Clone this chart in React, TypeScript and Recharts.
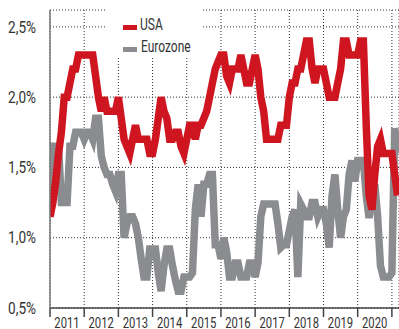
import { LineChart, Line, XAxis, YAxis, CartesianGrid, Legend } from 'recharts';

// Monthly core inflation, % y/y, starting January 2011
const usa = [
	1.15, 1.25, 1.4, 1.6, 1.75, 2.0, 2.0, 2.1, 2.2, 2.2, 2.3, 2.3,
	2.3, 2.3, 2.3, 2.3, 2.15, 2.0, 1.9, 2.0, 1.9, 1.9, 1.9, 1.9,
	2.0, 1.85, 1.7, 1.65, 1.6, 1.7, 1.8, 1.7, 1.7, 1.7, 1.7, 1.6,
	1.6, 1.7, 1.85, 2.0, 1.9, 1.85, 1.7, 1.7, 1.75, 1.75, 1.65, 1.6,
	1.7, 1.8, 1.8, 1.7, 1.8, 1.8, 1.85, 1.9, 2.0, 2.1, 2.2, 2.25,
	2.3, 2.3, 2.15, 2.1, 2.2, 2.2, 2.2, 2.3, 2.2, 2.1, 2.1, 2.2,
	2.3, 2.2, 2.0, 1.9, 1.7, 1.7, 1.7, 1.7, 1.7, 1.8, 1.8, 1.8,
	2.0, 2.1, 2.1, 2.2, 2.2, 2.3, 2.4, 2.4, 2.2, 2.1, 2.2, 2.2,
	2.2, 2.1, 2.0, 2.0, 2.0, 2.1, 2.2, 2.4, 2.4, 2.3, 2.3, 2.3,
	2.3, 2.4, 2.4, 1.8, 1.3, 1.2, 1.45, 1.65, 1.7, 1.6, 1.6, 1.6,
	1.6, 1.45, 1.3,
];

const eurozone = [
	1.3, 1.65, 1.65, 1.65, 1.25, 1.25, 1.25, 1.65, 1.65, 1.75, 1.75, 1.75,
	1.7, 1.75, 1.75, 1.7, 1.85, 1.85, 1.58, 1.5, 1.45, 1.45, 1.38, 1.33,
	1.45, 1.45, 1.0, 1.1, 1.15, 1.15, 1.1, 1.0, 0.85, 0.72, 0.72, 0.92,
	0.92, 0.92, 0.75, 0.62, 0.8, 0.92, 0.92, 0.8, 0.7, 0.62, 0.62, 0.72,
	0.72, 0.72, 0.75, 1.2, 1.38, 1.15, 1.38, 1.38, 1.45, 1.45, 0.95, 0.95,
	0.85, 1.0, 0.9, 0.72, 0.72, 0.82, 0.82, 0.72, 0.72, 0.72, 0.82, 0.82,
	0.72, 0.82, 1.15, 1.24, 1.24, 1.24, 1.24, 1.24, 1.1, 0.93, 0.95, 0.95,
	1.05, 1.15, 1.2, 0.72, 1.24, 1.2, 1.15, 1.15, 1.25, 1.25, 1.15, 1.2,
	1.2, 1.1, 0.93, 1.3, 1.45, 1.2, 1.0, 1.15, 1.2, 1.45, 1.55, 1.4,
	1.55, 1.55, 1.55, 1.3, 1.14, 1.3, 1.38, 1.15, 0.8, 0.72, 0.72, 0.72,
	0.75, 1.78, 1.6,
];

const years = ['2011', '2012', '2013', '2014', '2015', '2016', '2017', '2018', '2019', '2020', '2021'];
const yTicks = [0.5, 1.0, 1.5, 2.0, 2.5];

const RED = '#cf1620';
const GREY = '#8a8c8f';
const FONT = "Roboto, 'DejaVu Sans', sans-serif";

const data = usa.map((v, i) => ({ month: i, usa: v, eurozone: eurozone[i] }));
const xTicks = years.map((_, i) => i * 12);

// narrow type: regular glyphs squeezed horizontally
function NarrowText({ x, y, size, squeeze, anchor = 'start', dy, children }: any) {
	return (
		<text
			transform={`translate(${x},${y}) scale(${squeeze},1)`}
			dy={dy}
			textAnchor={anchor}
			fontSize={size}
			fill="#333"
			fontFamily={FONT}
		>
			{children}
		</text>
	);
}

// year label sits in the middle of its 12-month span
function YearTick({ x, y, payload }: any) {
	const idx = payload.value / 12;
	if (idx >= years.length - 1) return null;
	return (
		<NarrowText x={x + 17} y={y} dy="0.72em" size={15} squeeze={0.75} anchor="middle">
			{years[idx]}
		</NarrowText>
	);
}

function PercentTick({ x, y, payload }: any) {
	const label = payload.value.toFixed(1).replace('.', ',') + '%';
	return (
		<NarrowText x={x} y={y} dy="0.36em" size={16} squeeze={0.85} anchor="end">
			{label}
		</NarrowText>
	);
}

function LegendBox() {
	return (
		<svg width={94} height={58}>
			<rect x={16} y={25} width={14} height={5} fill={RED} />
			<NarrowText x={33} y={30} size={16} squeeze={0.75}>USA</NarrowText>
			<rect x={16} y={47} width={14} height={5} fill={GREY} />
			<NarrowText x={34} y={52} size={16} squeeze={0.75}>Eurozone</NarrowText>
		</svg>
	);
}

export default function App() {
	return (
		<div style={{ position: 'absolute', left: 0, top: 0, width: 399, height: 329, background: '#fff' }}>
			<LineChart width={399} height={329} data={data} margin={{ top: 10, right: 0, bottom: 0, left: 0 }}>
				<CartesianGrid stroke="#333" strokeDasharray="1 2" />
				<XAxis
					dataKey="month"
					type="number"
					domain={[0, 122.5]}
					allowDataOverflow
					ticks={xTicks}
					interval={0}
					height={21}
					tickSize={9}
					tickMargin={0}
					tick={<YearTick />}
					axisLine={{ stroke: '#444', strokeWidth: 1.5 }}
					tickLine={{ stroke: '#444', strokeWidth: 1.5 }}
				/>
				<YAxis
					type="number"
					domain={[0.5, 2.62]}
					allowDataOverflow
					ticks={yTicks}
					interval={0}
					width={50}
					tickLine={false}
					tickMargin={8}
					axisLine={{ stroke: '#777', strokeWidth: 1.5 }}
					tick={<PercentTick />}
				/>
				<Legend
					layout="vertical"
					align="center"
					verticalAlign="middle"
					content={<LegendBox />}
					wrapperStyle={{ left: 107, top: 0, width: 94, height: 58, background: '#fff' }}
				/>
				<Line
					type="linear"
					dataKey="eurozone"
					stroke={GREY}
					strokeWidth={7.5}
					dot={false}
					isAnimationActive={false}
				/>
				<Line
					type="linear"
					dataKey="usa"
					stroke={RED}
					strokeWidth={7.5}
					dot={false}
					isAnimationActive={false}
				/>
			</LineChart>
		</div>
	);
}
